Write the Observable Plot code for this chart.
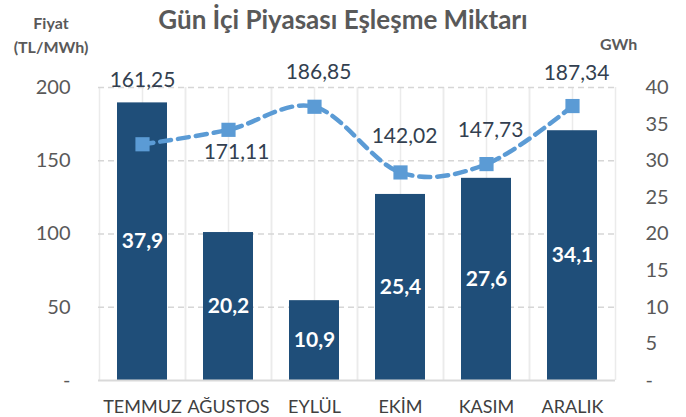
<!DOCTYPE html>
<html><head><meta charset="utf-8">
<script src="https://cdn.jsdelivr.net/npm/d3@7"></script>
<script src="https://cdn.jsdelivr.net/npm/@observablehq/plot@0.6"></script>
<style>
body{margin:0;background:#fff;}
#wrap{position:relative;width:686px;height:417px;font-family:Lato,sans-serif;overflow:hidden;}
#wrap svg{position:absolute;left:0;top:0;}
.t{position:absolute;color:#595959;font-weight:bold;white-space:nowrap;z-index:2;}
</style></head><body>
<div id="wrap">
<div class="t" style="left:0;width:686px;text-align:center;top:3px;font-size:26px;">Gün İçi Piyasası Eşleşme Miktarı</div>
<div class="t" style="left:0;width:102px;text-align:center;top:11px;font-size:16px;line-height:24px;">Fiyat<br>(TL/MWh)</div>
<div class="t" style="left:600px;top:34px;font-size:16px;">GWh</div>
</div>
<script>
const months = ["TEMMUZ","AĞUSTOS","EYLÜL","EKİM","KASIM","ARALIK"];
const gwh = [37.9,20.2,10.9,25.4,27.6,34.1];
const price = [161.25,171.11,186.85,142.02,147.73,187.34];
const leftTicks = [0,50,100,150,200];
const rightTicks = [0,5,10,15,20,25,30,35,40];
const ratio = 200 / 40; // left-axis units per GWh

const data = months.map((m,i)=>({month:m,gwh:gwh[i],price:price[i]}));
const fmt2 = v => v.toFixed(2).replace(".",",");
const fmt1 = v => v.toFixed(1).replace(".",",");
const labelStyle = {x:"month",y:"price",text:d=>fmt2(d.price),fill:"#333f50",fontSize:21,dx:4};
const only = m => d => d.month===m;

const chart = Plot.plot({
  width:686,height:417,marginTop:87,marginBottom:37,marginLeft:98,marginRight:71,
  style:{fontFamily:"Lato, sans-serif",background:"transparent"},
  x:{domain:months,paddingInner:0.42,paddingOuter:0.21,label:null,axis:null},
  y:{domain:[0,200],label:null,axis:null},
  marks:[
    Plot.ruleX(months,{x:d=>d,stroke:"#ebebeb",strokeWidth:1.5}),
    Plot.ruleX(months,{x:d=>d,dx:-43,stroke:"#ebebeb",strokeWidth:1.5}),
    Plot.ruleX(months,{x:d=>d,dx:43,stroke:"#ebebeb",strokeWidth:1.5}),
    Plot.ruleY(leftTicks.filter(d=>d>0),{stroke:"#d6d6d6",strokeWidth:1.5,strokeDasharray:"6,4"}),
    Plot.barY(data,{x:"month",y:d=>d.gwh*ratio,fill:"#1f4e79"}),
    Plot.ruleY([0],{stroke:"#d9d9d9",strokeWidth:2}),
    Plot.line(data,{x:"month",y:"price",curve:"cardinal",stroke:"#5b9bd5",strokeWidth:4.5,strokeDasharray:"11,7",strokeLinecap:"round"}),
    Plot.dot(data,{x:"month",y:"price",symbol:"square",r:8,fill:"#5b9bd5",stroke:"none"}),
    Plot.text(data,{x:"month",y:d=>d.gwh*ratio/2,text:d=>fmt1(d.gwh),fill:"white",fontWeight:"bold",fontSize:21}),
    Plot.text(data,{...labelStyle,filter:only("TEMMUZ"),dy:-64,dx:0}),
    Plot.text(data,{...labelStyle,filter:only("AĞUSTOS"),dy:22,dx:8}),
    Plot.text(data,{...labelStyle,filter:only("EYLÜL"),dy:-34}),
    Plot.text(data,{...labelStyle,filter:only("EKİM"),dy:-36}),
    Plot.text(data,{...labelStyle,filter:only("KASIM"),dy:-34}),
    Plot.text(data,{...labelStyle,filter:only("ARALIK"),dy:-33}),
    Plot.axisY(leftTicks,{anchor:"left",tickSize:0,tickPadding:28,label:null,
      tickFormat:d=>d===0?"-":String(d),fontSize:20,color:"#595959"}),
    Plot.axisY(rightTicks.map(d=>d*ratio),{anchor:"right",tickSize:0,tickPadding:30,label:null,
      tickFormat:d=>d===0?"-":String(d/ratio),fontSize:20,color:"#595959"}),
    Plot.axisX({tickSize:0,tickPadding:20,label:null,fontSize:18,color:"#404040"})
  ]
});
document.getElementById("wrap").prepend(chart);
</script>
</body></html>
